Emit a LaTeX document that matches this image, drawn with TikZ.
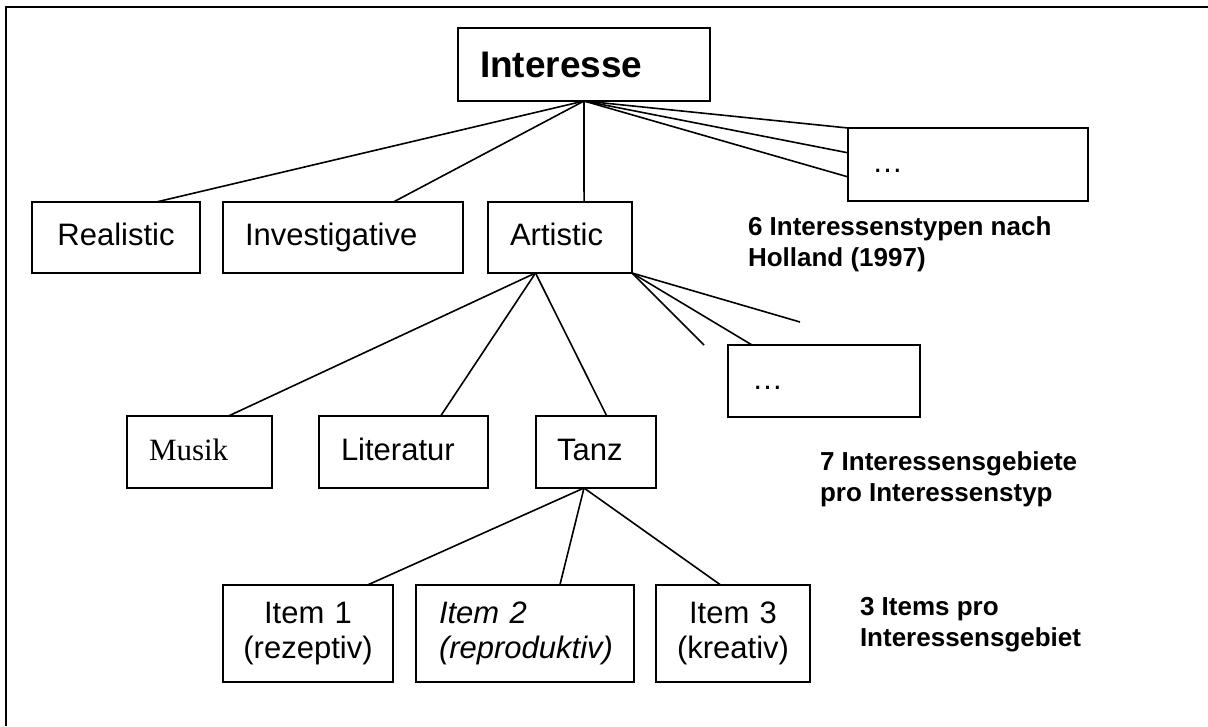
\documentclass[tikz,border=0pt]{standalone}
\usepackage{fontspec}
\setmainfont{Liberation Sans}
\newfontfamily\musikfont{Liberation Serif}
\usetikzlibrary{calc}
\tikzset{
  bx/.style={draw, line width=1.6pt, inner sep=0pt, outer sep=0pt, anchor=north west, align=left,
    font=\fontsize{31pt}{35pt}\selectfont},
  one/.style={text height=23pt, text depth=7pt},
  lbl/.style={anchor=north west, inner sep=0pt, outer sep=0pt, align=left,
    font=\bfseries\fontsize{26pt}{31pt}\selectfont},
  conn/.style={line width=1.6pt},
  frame/.style={line width=2.5pt}
}
\begin{document}
\begin{tikzpicture}[x=1pt,y=-1pt]
\useasboundingbox (0,0) rectangle (1208,726);
\fill[white] (0,0) rectangle (1208,726);
\draw[frame] (6,726) -- (6,7) -- (1208,7);

% level 0
\node[bx, minimum width=252pt, minimum height=73pt, text width=208pt,
      font=\bfseries\fontsize{37pt}{42pt}\selectfont] (int) at (458,28) {Interesse};

% level 1
\node[bx, one, minimum width=168pt, minimum height=71pt, text width=168pt, align=center] (real) at (32,202) {Realistic};
\node[bx, one, minimum width=240pt, minimum height=71pt, text width=196pt] (inv) at (223,202) {Investigative};
\node[bx, one, minimum width=144pt, minimum height=71pt, text width=100pt] (art) at (488,202) {Artistic};
\node[bx, one, minimum width=240pt, minimum height=73pt, text width=192pt] (dotsA) at (848,128) {…};
\node[lbl] (labA) at (748,217) {6 Interessenstypen nach\\Holland (1997)};

% level 2
\node[bx, one, minimum width=145pt, minimum height=72pt, text width=101pt,
      font=\musikfont\fontsize{31pt}{35pt}\selectfont] (mus) at (127,416) {Musik};
\node[bx, one, minimum width=169pt, minimum height=72pt, text width=125pt] (lit) at (319,416) {Literatur};
\node[bx, one, minimum width=120pt, minimum height=72pt, text width=78pt] (tanz) at (536,416) {Tanz};
\node[bx, one, minimum width=192pt, minimum height=72pt, text width=144pt] (dotsB) at (728,345) {…};
\node[lbl] (labB) at (820,452) {7 Interessensgebiete\\pro Interessenstyp};

% level 3
\node[bx, minimum width=170pt, minimum height=97pt, text width=170pt, align=center] (it1) at (223,585) {Item 1\\(rezeptiv)};
\node[bx, minimum width=218pt, minimum height=97pt, text width=172pt,
      font=\itshape\fontsize{31pt}{35pt}\selectfont] (it2) at (416,585) {Item 2\\(reproduktiv)};
\node[bx, minimum width=154pt, minimum height=97pt, text width=154pt, align=center] (it3) at (656,585) {Item 3\\(kreativ)};
\node[lbl] (labC) at (860,597) {3 Items pro\\Interessensgebiet};

% connectors level 0 -> 1
\draw[conn] (int.south) -- ($(real.north west)!0.74!(real.north east)$);
\draw[conn] (int.south) -- ($(inv.north west)!0.71!(inv.north east)$);
\draw[conn] (int.south) -- ($(art.north west)!0.667!(art.north east)$);
\draw[conn] (int.south) -- (dotsA.north west);
\draw[conn] (int.south) -- ($(dotsA.north west)!0.34!(dotsA.south west)$);
\draw[conn] (int.south) -- ($(dotsA.north west)!0.67!(dotsA.south west)$);

% connectors level 1 -> 2
\coordinate (artfoot) at ($(art.south west)!0.33!(art.south east)$);
\coordinate (openA) at (704,345);
\coordinate (openB) at (800,322);
\draw[conn] (artfoot) -- ($(mus.north west)!0.70!(mus.north east)$);
\draw[conn] (artfoot) -- ($(lit.north west)!0.72!(lit.north east)$);
\draw[conn] (artfoot) -- ($(tanz.north west)!0.59!(tanz.north east)$);
\draw[conn] (art.south east) -- (openA);
\draw[conn] (art.south east) -- ($(dotsB.north west)!0.125!(dotsB.north east)$);
\draw[conn] (art.south east) -- (openB);

% connectors level 2 -> 3
\coordinate (tanzfoot) at ($(tanz.south west)!0.40!(tanz.south east)$);
\draw[conn] (tanzfoot) -- ($(it1.north west)!0.85!(it1.north east)$);
\draw[conn] (tanzfoot) -- ($(it2.north west)!0.66!(it2.north east)$);
\draw[conn] (tanzfoot) -- ($(it3.north west)!0.42!(it3.north east)$);
\end{tikzpicture}
\end{document}
